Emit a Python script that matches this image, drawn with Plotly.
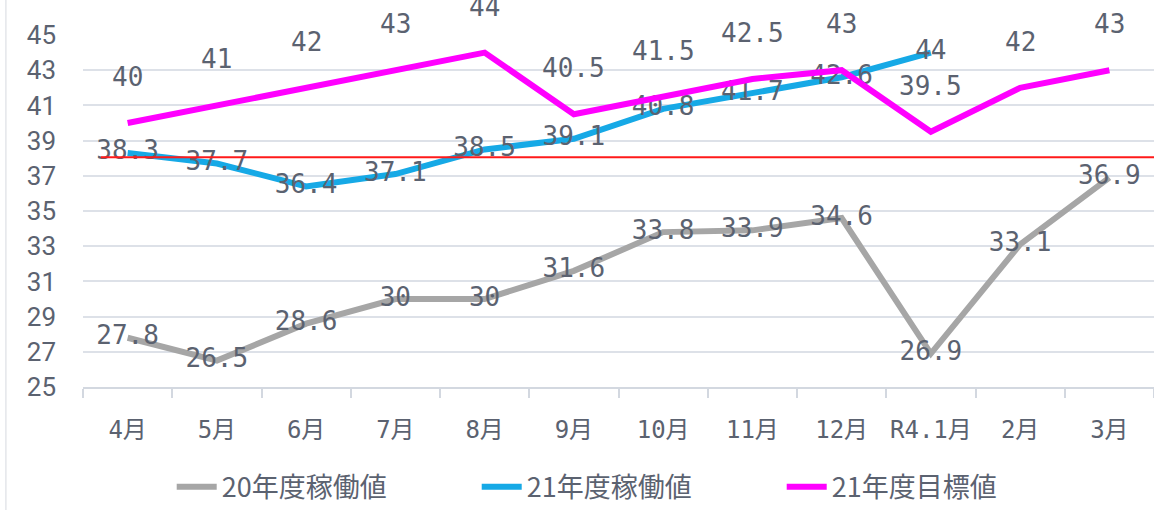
import plotly.graph_objects as go

months = ["4月", "5月", "6月", "7月", "8月", "9月", "10月", "11月", "12月", "R4.1月", "2月", "3月"]
actual_20 = [27.8, 26.5, 28.6, 30, 30, 31.6, 33.8, 33.9, 34.6, 26.9, 33.1, 36.9]
actual_21 = [38.3, 37.7, 36.4, 37.1, 38.5, 39.1, 40.8, 41.7, 42.6, 44]
target_21 = [40, 41, 42, 43, 44, 40.5, 41.5, 42.5, 43, 39.5, 42, 43]
reference_line = 38.05
y_ticks = list(range(25, 46, 2))

label_font = dict(family="DejaVu Sans Mono, Noto Sans CJK JP", size=26, color="#5b6270")
text_color = "#5b6270"

def fmt(v):
    return f"{v:g}"

fig = go.Figure()
fig.add_trace(go.Scatter(
    x=months, y=actual_20, name="20年度稼働値", mode="lines+text",
    line=dict(color="#a6a6a6", width=6),
    text=[fmt(v) for v in actual_20], textposition="middle center",
    textfont=label_font,
))
fig.add_trace(go.Scatter(
    x=months[:len(actual_21)], y=actual_21, name="21年度稼働値", mode="lines+text",
    line=dict(color="#16a9e6", width=6),
    text=[fmt(v) for v in actual_21], textposition="middle center",
    textfont=label_font,
))
fig.add_trace(go.Scatter(
    x=months, y=target_21, name="21年度目標値", mode="lines",
    line=dict(color="#ff00ff", width=6),
))

for m, v in zip(months, target_21):
    fig.add_annotation(x=m, y=v, text=fmt(v), showarrow=False, yshift=46,
                       font=label_font)

fig.add_shape(type="line", xref="x", yref="y", x0=-0.3, x1=11.5,
              y0=reference_line, y1=reference_line,
              line=dict(color="#ff1a1a", width=2), layer="above")
fig.add_shape(type="line", xref="paper", yref="paper", x0=-0.072, x1=-0.072,
              y0=-0.35, y1=1.1, line=dict(color="#e4e6ea", width=1.5))

fig.update_layout(
    width=1154, height=510,
    margin=dict(l=83, r=0, t=35, b=123, autoexpand=False),
    plot_bgcolor="white", paper_bgcolor="white",
    showlegend=True,
    legend=dict(orientation="h", x=0.51, xanchor="center", y=-0.285, yanchor="middle",
                font=dict(family="Noto Sans CJK JP", size=27, color=text_color),
                entrywidth=250, entrywidthmode="pixels", itemwidth=40),
    xaxis=dict(
        type="category", range=[-0.5, 11.5],
        showgrid=False, showline=True, linecolor="#d3d8e0", linewidth=2,
        ticks="outside", tickson="boundaries", ticklen=9, tickcolor="#d3d8e0", tickwidth=2,
        tickfont=dict(family="DejaVu Sans Mono, Noto Sans CJK JP", size=24, color=text_color),
        ticklabelstandoff=20, tickangle=0,
    ),
    yaxis=dict(
        range=[25, 45], tickvals=y_ticks, showgrid=True, gridcolor="#dde1e8", gridwidth=2,
        zeroline=False, showline=False,
        tickfont=dict(family="Roboto", size=26, color=text_color),
        ticklabelstandoff=26,
    ),
)

fig.write_html("out.html")
